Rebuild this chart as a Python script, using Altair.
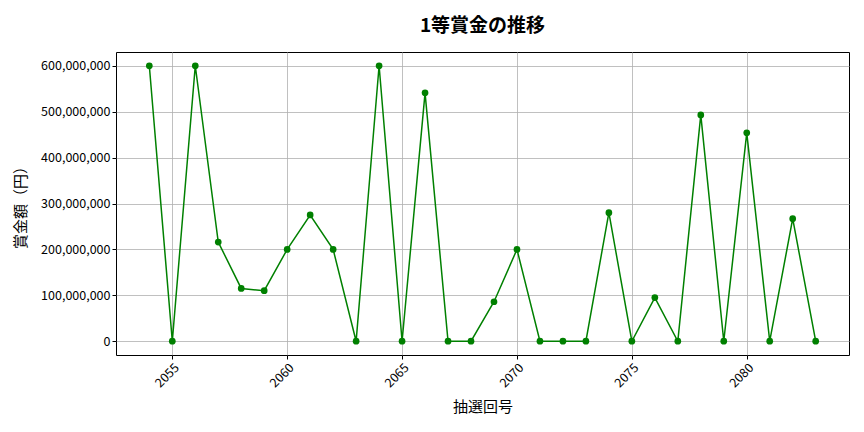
import altair as alt
import pandas as pd

draws = list(range(2054, 2084))
prizes = [600000000, 0, 600000000, 216000000, 115000000, 110000000, 200000000,
          275000000, 200000000, 0, 600000000, 0, 541000000, 0, 0, 86000000,
          200000000, 0, 0, 0, 280000000, 0, 95000000, 0, 493000000, 0,
          454000000, 0, 267000000, 0]
x_ticks = [2055, 2060, 2065, 2070, 2075, 2080]
y_ticks = [0, 100000000, 200000000, 300000000, 400000000, 500000000, 600000000]

df = pd.DataFrame({"draw": draws, "prize": prizes})

FONT = "Noto Sans CJK JP"
GREEN = "#008000"

x = alt.X("draw:Q", title="抽選回号",
          scale=alt.Scale(domain=[2052.55, 2084.45], nice=False, zero=False),
          axis=alt.Axis(values=x_ticks, format="d", labelAngle=-45,
                        labelAlign="right", labelBaseline="top"))
y = alt.Y("prize:Q", title="賞金額（円）",
          scale=alt.Scale(domain=[-30000000, 630000000], nice=False, zero=False),
          axis=alt.Axis(values=y_ticks, format=",d"))

base = alt.Chart(df).encode(x=x, y=y)
line = base.mark_line(color=GREEN, strokeWidth=1.5)
pts = base.mark_circle(color=GREEN, size=45, opacity=1)

chart = (line + pts).properties(
    width=733, height=303, background="white",
    padding={"left": 5, "top": 9, "right": 5, "bottom": 5},
    title=alt.TitleParams("1等賞金の推移", fontSize=19, font=FONT,
                          fontWeight="bold", offset=16),
).configure_axis(
    grid=True, gridColor="#b0b0b0", gridWidth=0.8, gridOpacity=1,
    domain=False, tickColor="#000", tickSize=4,
    labelFont=FONT, labelFontSize=12.5, labelColor="#000",
    titleFont=FONT, titleFontSize=15, titleFontWeight="normal", titleColor="#000",
).configure_axisY(titlePadding=12).configure_axisX(titlePadding=10).configure_view(
    stroke="#000", strokeWidth=1
)

chart.save("out.html", embed_options={"renderer": "svg", "actions": False})
